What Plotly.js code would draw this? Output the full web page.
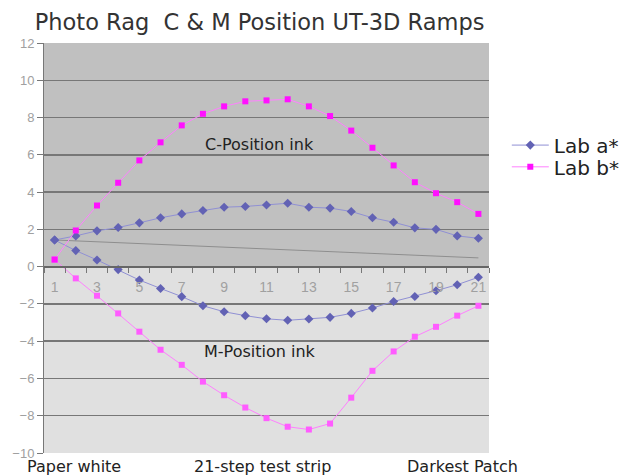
<!DOCTYPE html>
<html>
<head>
<meta charset="utf-8">
<script src="https://cdn.plot.ly/plotly-3.0.1.min.js"></script>
<style>html,body{margin:0;padding:0;background:#fff;}#chart{width:621px;height:475px;}</style>
</head>
<body>
<div id="chart"></div>
<script>
// Data
const steps = [1,2,3,4,5,6,7,8,9,10,11,12,13,14,15,16,17,18,19,20,21];
const tickSteps = [1,3,5,7,9,11,13,15,17,19,21];
const cPosA = [1.43,1.65,1.92,2.10,2.35,2.62,2.83,3.01,3.19,3.23,3.31,3.40,3.19,3.14,2.96,2.62,2.38,2.08,2.00,1.65,1.52];
const cPosB = [0.38,1.94,3.28,4.50,5.70,6.67,7.58,8.20,8.60,8.87,8.92,8.98,8.60,8.08,7.30,6.38,5.43,4.53,3.94,3.46,2.83];
const mPosA = [1.43,0.86,0.36,-0.16,-0.72,-1.17,-1.61,-2.10,-2.42,-2.63,-2.80,-2.88,-2.81,-2.72,-2.51,-2.22,-1.87,-1.60,-1.29,-0.97,-0.57];
const mPosB = [0.38,-0.63,-1.56,-2.51,-3.49,-4.46,-5.27,-6.17,-6.90,-7.56,-8.13,-8.59,-8.74,-8.42,-7.03,-5.59,-4.55,-3.76,-3.23,-2.63,-2.10];
const refX = [1,21];
const refY = [1.43,0.47];
const seriesNames = ['Lab a*','Lab b*'];

const FONT = 'DejaVu Sans, Liberation Sans, Arial, sans-serif';
const TFONT = 'Liberation Sans, Arial, sans-serif';
const blueLine = '#9090d4', blueMark = '#6262b4';
const pinkLine = '#ff80ff', pinkMark = '#ff10ff', pinkMark2 = '#ff5cff';

const traces = [
  {x: refX, y: refY, mode: 'lines', line: {color: '#8e8e8e', width: 1}, showlegend: false, hoverinfo: 'skip'},
  {x: steps, y: mPosA, mode: 'lines+markers', line: {color: blueLine, width: 1},
   marker: {symbol: 'diamond', size: 7, color: blueMark}, showlegend: false},
  {x: steps, y: mPosB, mode: 'lines+markers', line: {color: pinkLine, width: 1},
   marker: {symbol: 'square', size: 6, color: pinkMark2}, showlegend: false},
  {x: steps, y: cPosA, name: seriesNames[0], legend: 'legend', mode: 'lines+markers', line: {color: blueLine, width: 1},
   marker: {symbol: 'diamond', size: 7, color: blueMark}},
  {x: steps, y: cPosB, name: seriesNames[1], legend: 'legend2', mode: 'lines+markers', line: {color: pinkLine, width: 1},
   marker: {symbol: 'square', size: 6, color: pinkMark}}
];

const legendBase = {x: 1.04, xanchor: 'left', yanchor: 'middle', font: {family: FONT, size: 20, color: '#222'},
                    bgcolor: 'rgba(0,0,0,0)', itemwidth: 37};

const layout = {
  width: 621, height: 475,
  margin: {l: 44, r: 132, t: 43, b: 22, autoexpand: false},
  paper_bgcolor: '#ffffff',
  plot_bgcolor: 'rgba(0,0,0,0)',
  font: {family: FONT, color: '#222'},
  title: {text: 'Photo Rag&nbsp;&nbsp;C &amp; M Position UT-3D Ramps', font: {family: FONT, size: 22.5, color: '#333'},
          x: 0.418, xanchor: 'center', y: 0.953, yanchor: 'middle'},
  showlegend: true,
  legend: Object.assign({}, legendBase, {y: 0.751}),
  legend2: Object.assign({}, legendBase, {y: 0.698}),
  xaxis: {
    range: [0.5, 21.5], anchor: 'free', position: 10/22,
    tickvals: tickSteps, ticktext: tickSteps.map(String),
    ticks: 'outside', ticklen: 8, tickcolor: 'rgba(0,0,0,0)',
    tickfont: {family: TFONT, size: 14, color: '#a0a0a0'},
    minor: {tick0: 0.5, dtick: 1, ticks: 'outside', ticklen: 5, tickcolor: '#777', tickwidth: 1, showgrid: false},
    showgrid: false, zeroline: false, showline: true, linecolor: '#666', linewidth: 2
  },
  yaxis: {
    range: [-10, 12], dtick: 2, tick0: 0,
    ticks: 'outside', ticklen: 6, tickcolor: '#777',
    tickfont: {family: TFONT, size: 13, color: '#a0a0a0'},
    showgrid: true, gridcolor: '#777', gridwidth: 1.5,
    zeroline: false, showline: true, linecolor: '#777', linewidth: 1
  },
  shapes: [
    {type: 'rect', xref: 'paper', yref: 'y', x0: 0, x1: 1, y0: 0, y1: 12, fillcolor: '#c0c0c0', line: {width: 0}, layer: 'below'},
    {type: 'rect', xref: 'paper', yref: 'y', x0: 0, x1: 1, y0: -10, y1: 0, fillcolor: '#e0e0e0', line: {width: 0}, layer: 'below'}
  ],
  annotations: [
    {x: 10.67, y: 6.56, xref: 'x', yref: 'y', text: 'C-Position ink', showarrow: false, font: {family: FONT, size: 16, color: '#222'}},
    {x: 10.67, y: -4.57, xref: 'x', yref: 'y', text: 'M-Position ink', showarrow: false, font: {family: FONT, size: 16, color: '#222'}},
    {x: -0.043, y: 0, xref: 'paper', yref: 'paper', yshift: -13, xanchor: 'left', yanchor: 'middle', text: 'Paper white', showarrow: false, font: {family: FONT, size: 16, color: '#222'}},
    {x: 0.333, y: 0, xref: 'paper', yref: 'paper', yshift: -13, xanchor: 'left', yanchor: 'middle', text: '21-step test strip', showarrow: false, font: {family: FONT, size: 16, color: '#222'}},
    {x: 0.811, y: 0, xref: 'paper', yref: 'paper', yshift: -13, xanchor: 'left', yanchor: 'middle', text: 'Darkest Patch', showarrow: false, font: {family: FONT, size: 16, color: '#222'}}
  ]
};

Plotly.newPlot('chart', traces, layout, {displayModeBar: false, staticPlot: true});
</script>
</body>
</html>
